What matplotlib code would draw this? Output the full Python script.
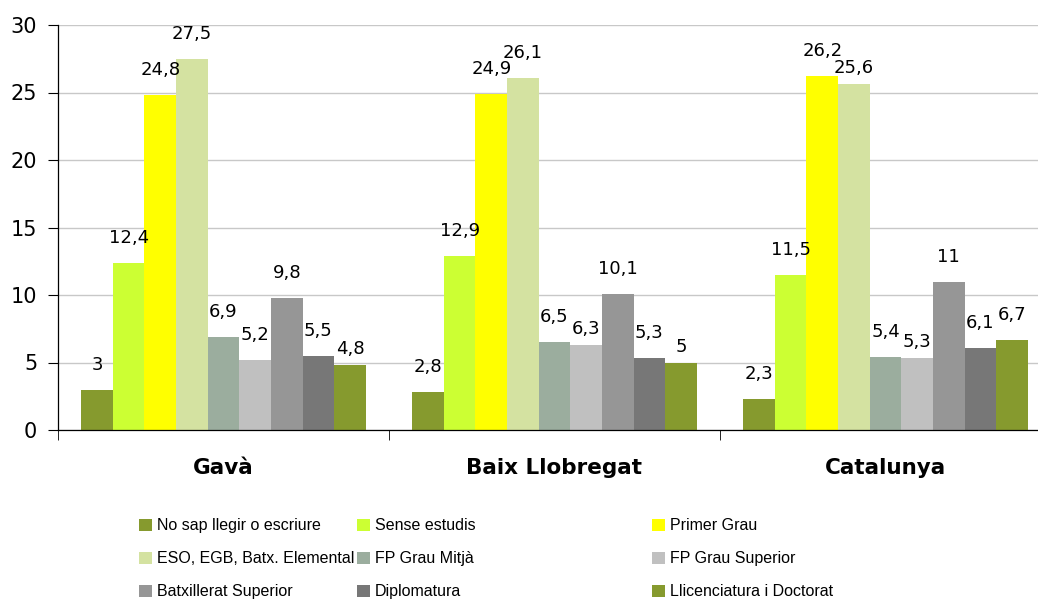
import matplotlib
matplotlib.use("Agg")
import matplotlib.pyplot as plt
import numpy as np
from matplotlib.patches import Patch

plt.rcParams["font.family"] = ["DejaVu Sans"]

groups = ["Gavà", "Baix Llobregat", "Catalunya"]
series = ["No sap llegir o escriure", "Sense estudis", "Primer Grau",
          "ESO, EGB, Batx. Elemental", "FP Grau Mitjà", "FP Grau Superior",
          "Batxillerat Superior", "Diplomatura", "Llicenciatura i Doctorat"]
gava = [3, 12.4, 24.8, 27.5, 6.9, 5.2, 9.8, 5.5, 4.8]
baix = [2.8, 12.9, 24.9, 26.1, 6.5, 6.3, 10.1, 5.3, 5]
cat = [2.3, 11.5, 26.2, 25.6, 5.4, 5.3, 11, 6.1, 6.7]
colors = ["#869A2E", "#CCFF33", "#FFFF00", "#D4E2A1", "#9BAD9E",
          "#C0C0C0", "#969696", "#777777", "#869A2E"]

values = np.array([gava, baix, cat])

fig = plt.figure(figsize=(10.38, 6.06), dpi=100)
ax = fig.add_axes([58 / 1038, 1 - 430 / 606, 993 / 1038, 405 / 606])

x = np.arange(len(groups))
w = 0.0955
n = len(series)
px_per_unit = 405 / 30
for g in range(len(groups)):
    prev = None
    for i in range(n):
        xp = x[g] + (i - (n - 1) / 2) * w
        v = values[g, i]
        ax.bar(xp, v, width=w, color=colors[i], zorder=2)
        # label 25px above the bar, pushed down if it would sit on the previous one
        off = 25
        if prev is not None:
            gap = (prev - v) * px_per_unit
            if 0 < gap < 15:
                off = 16
        lab = f"{v:g}".replace(".", ",")
        ax.annotate(lab, (xp, v), xytext=(0, off), textcoords="offset pixels",
                    ha="center", va="center", fontsize=13)
        prev = v

ax.set_xlim(-0.5, 2.5)
ax.set_ylim(0, 30)
ax.set_yticks(range(0, 31, 5))
ax.yaxis.grid(True, color="#c8c8c8", linewidth=1, zorder=0)
ax.set_axisbelow(True)
for s in ["top", "right"]:
    ax.spines[s].set_visible(False)
ax.spines["left"].set_linewidth(0.9)
ax.spines["bottom"].set_linewidth(0.9)
ax.tick_params(axis="y", direction="out", length=7, labelsize=15, pad=8)

ax.set_xticks(x)
ax.set_xticklabels(groups, fontsize=15.5, fontweight="bold")
ax.set_xticks([-0.5, 0.5, 1.5, 2.5], minor=True)
ax.tick_params(axis="x", which="major", length=0, pad=20)
ax.tick_params(axis="x", which="minor", direction="out", length=7)

# legend: three columns placed like the original
handles = [Patch(facecolor=c, edgecolor="none") for c in colors]
col_x = [133 / 1038, 351 / 1038, 646 / 1038]
for k in range(3):
    idx = [k, k + 3, k + 6]
    fig.legend([handles[j] for j in idx], [series[j] for j in idx],
               loc="upper left", bbox_to_anchor=(col_x[k], 1 - 512 / 606),
               frameon=False, handlelength=0.8, handleheight=0.8,
               handletextpad=0.3, labelspacing=1.12, borderaxespad=0,
               prop={"family": "Liberation Sans", "size": 11.5})

fig.savefig("out.png", dpi=100)
